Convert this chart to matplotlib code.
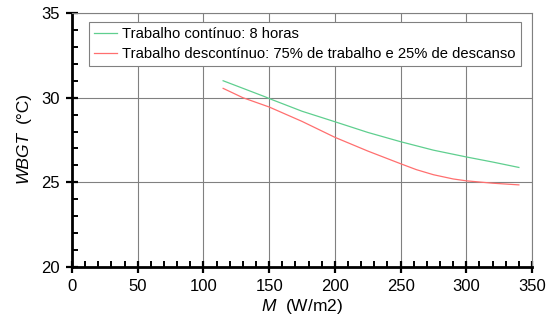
import matplotlib
matplotlib.use("Agg")
import matplotlib.pyplot as plt
from matplotlib.ticker import MultipleLocator

plt.rcParams['font.family'] = ['Liberation Sans', 'DejaVu Sans']
plt.rcParams['mathtext.fontset'] = 'custom'
plt.rcParams['mathtext.it'] = 'Liberation Sans:italic'
plt.rcParams['mathtext.rm'] = 'Liberation Sans'

m_cont = [115, 147, 150, 175, 200, 225, 250, 275, 300, 320, 340]
wbgt_cont = [31.0, 30.05, 29.95, 29.2, 28.58, 27.95, 27.4, 26.9, 26.5, 26.2, 25.88]
m_desc = [115, 130, 150, 175, 200, 225, 250, 262, 275, 290, 300, 320, 340]
wbgt_desc = [30.55, 30.0, 29.45, 28.6, 27.66, 26.85, 26.1, 25.75, 25.45, 25.2, 25.09, 24.95, 24.85]

label_cont = 'Trabalho contínuo: 8 horas'
label_desc = 'Trabalho descontínuo: 75% de trabalho e 25% de descanso'

fig = plt.figure(figsize=(5.55, 3.34), dpi=100)
ax = fig.add_axes([0.1297, 0.2006, 0.8289, 0.7604])

ax.plot(m_cont, wbgt_cont, color='#5fcf8f', lw=0.9, label=label_cont)
ax.plot(m_desc, wbgt_desc, color='#ff6f6f', lw=0.9, label=label_desc)

ax.set_xlim(0, 350)
ax.set_ylim(20, 35)
ax.xaxis.set_major_locator(MultipleLocator(50))
ax.xaxis.set_minor_locator(MultipleLocator(10))
ax.yaxis.set_major_locator(MultipleLocator(5))
ax.yaxis.set_minor_locator(MultipleLocator(1))

ax.grid(True, which='major', color='#808080', lw=0.8)
ax.set_axisbelow(True)
for s in ['top', 'right']:
    ax.spines[s].set_color('#808080')
    ax.spines[s].set_linewidth(0.8)
for s in ['left', 'bottom']:
    ax.spines[s].set_color('black')
    ax.spines[s].set_linewidth(2.0)

ax.tick_params(which='major', direction='inout', length=9, width=1.6, labelsize=12, pad=4)
ax.tick_params(which='minor', direction='in', length=4, width=1.4)
ax.tick_params(top=False, right=False, which='both')

ax.set_xlabel(r'$\it{M}$  (W/m2)', fontsize=12.5, labelpad=2)
fig.text(0.0414, 0.452, 'WBGT', rotation=90, fontsize=12.5, style='italic',
         ha='center', va='bottom')
fig.text(0.0414, 0.7246, '(°C)', rotation=90, fontsize=12.5,
         ha='center', va='top')

leg = ax.legend(loc='upper left', bbox_to_anchor=(0.037, 0.965), borderaxespad=0,
                fontsize=10.6, frameon=True, fancybox=False, edgecolor='#808080',
                framealpha=1, handlelength=1.55, handletextpad=0.35, borderpad=0.35,
                labelspacing=0.4)
leg.get_frame().set_linewidth(0.8)

fig.savefig('out.png', dpi=100)
